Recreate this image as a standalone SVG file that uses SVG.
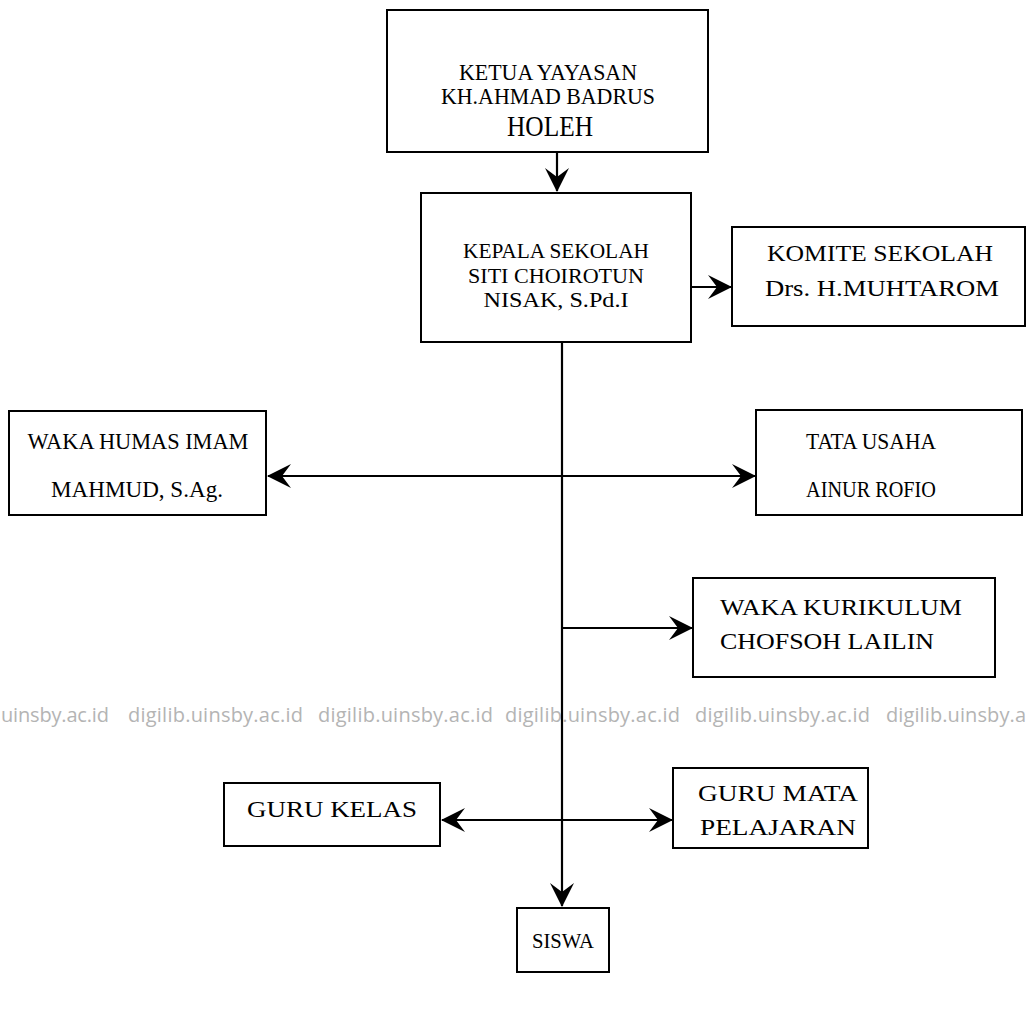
<svg xmlns="http://www.w3.org/2000/svg" width="1028" height="1028" viewBox="0 0 1028 1028">
<defs>
<marker id="arr" viewBox="0 0 24 24" refX="23" refY="12" markerWidth="24" markerHeight="24" markerUnits="userSpaceOnUse" orient="auto-start-reverse">
<path d="M0,0 L24,12 L0,24 L9,12 z" fill="#000"/>
</marker>
</defs>
<style>
.box{fill:#fff;stroke:#000;stroke-width:2}
.t{font-family:"Liberation Serif","Times New Roman",serif;fill:#000;text-anchor:middle}
.ts{font-family:"Liberation Serif","Times New Roman",serif;fill:#000;text-anchor:start}
.ln{stroke:#000;stroke-width:2.2;fill:none}
.wm{font-family:"Open Sans","Liberation Sans",sans-serif;fill:#b4b4b4;font-size:20px}
</style>
<rect width="1028" height="1028" fill="#fff"/>
<g id="watermark">
<text class="wm" y="722"><tspan x="1" textLength="108">uinsby.ac.id</tspan><tspan x="128" textLength="175">digilib.uinsby.ac.id</tspan><tspan x="318" textLength="175">digilib.uinsby.ac.id</tspan><tspan x="505" textLength="175">digilib.uinsby.ac.id</tspan><tspan x="695" textLength="175">digilib.uinsby.ac.id</tspan><tspan x="886" textLength="140">digilib.uinsby.a</tspan></text>
</g>
<g id="connectors">
<line class="ln" x1="557" y1="152" x2="557" y2="191" marker-end="url(#arr)"/>
<line class="ln" x1="691" y1="287" x2="731" y2="287" marker-end="url(#arr)"/>
<line class="ln" x1="562" y1="342" x2="562" y2="906" marker-end="url(#arr)"/>
<line class="ln" x1="268" y1="476" x2="755" y2="476" marker-start="url(#arr)" marker-end="url(#arr)"/>
<line class="ln" x1="562" y1="628" x2="692" y2="628" marker-end="url(#arr)"/>
<line class="ln" x1="442" y1="820" x2="672" y2="820" marker-start="url(#arr)" marker-end="url(#arr)"/>
</g>
<g id="ketua">
<rect class="box" x="387" y="10" width="321" height="142"/>
<text class="t" x="548" y="80" font-size="23" textLength="178" lengthAdjust="spacingAndGlyphs">KETUA YAYASAN</text>
<text class="t" x="548" y="104" font-size="23" textLength="214" lengthAdjust="spacingAndGlyphs">KH.AHMAD BADRUS</text>
<text class="t" x="550" y="136" font-size="29" textLength="86" lengthAdjust="spacingAndGlyphs">HOLEH</text>
</g>
<g id="kepala">
<rect class="box" x="421" y="193" width="270" height="149"/>
<text class="t" x="556" y="258" font-size="22" textLength="186" lengthAdjust="spacingAndGlyphs">KEPALA SEKOLAH</text>
<text class="t" x="556" y="283" font-size="22" textLength="176" lengthAdjust="spacingAndGlyphs">SITI CHOIROTUN</text>
<text class="t" x="556" y="307" font-size="22" textLength="145" lengthAdjust="spacingAndGlyphs">NISAK, S.Pd.I</text>
</g>
<g id="komite">
<rect class="box" x="732" y="227" width="293" height="99"/>
<text class="t" x="880" y="261" font-size="24" textLength="226" lengthAdjust="spacingAndGlyphs">KOMITE SEKOLAH</text>
<text class="t" x="882" y="296" font-size="24" textLength="234" lengthAdjust="spacingAndGlyphs">Drs. H.MUHTAROM</text>
</g>
<g id="waka-humas">
<rect class="box" x="9" y="411" width="257" height="104"/>
<text class="t" x="138" y="449" font-size="23" textLength="221" lengthAdjust="spacingAndGlyphs">WAKA HUMAS IMAM</text>
<text class="t" x="137" y="497" font-size="23" textLength="172" lengthAdjust="spacingAndGlyphs">MAHMUD, S.Ag.</text>
</g>
<g id="tata-usaha">
<rect class="box" x="756" y="410" width="266" height="105"/>
<text class="t" x="871" y="449" font-size="23" textLength="130" lengthAdjust="spacingAndGlyphs">TATA USAHA</text>
<text class="t" x="871" y="497" font-size="23" textLength="130" lengthAdjust="spacingAndGlyphs">AINUR ROFIO</text>
</g>
<g id="waka-kurikulum">
<rect class="box" x="693" y="578" width="302" height="99"/>
<text class="ts" x="720" y="615" font-size="24" textLength="242" lengthAdjust="spacingAndGlyphs">WAKA KURIKULUM</text>
<text class="ts" x="720" y="649" font-size="24" textLength="214" lengthAdjust="spacingAndGlyphs">CHOFSOH LAILIN</text>
</g>
<g id="guru-kelas">
<rect class="box" x="224" y="783" width="216" height="63"/>
<text class="t" x="332" y="817" font-size="23" textLength="170" lengthAdjust="spacingAndGlyphs">GURU KELAS</text>
</g>
<g id="guru-mapel">
<rect class="box" x="673" y="768" width="195" height="80"/>
<text class="t" x="778" y="801" font-size="23" textLength="160" lengthAdjust="spacingAndGlyphs">GURU MATA</text>
<text class="t" x="778" y="835" font-size="23" textLength="156" lengthAdjust="spacingAndGlyphs">PELAJARAN</text>
</g>
<g id="siswa">
<rect class="box" x="517" y="908" width="92" height="64"/>
<text class="t" x="563" y="948" font-size="22" textLength="62" lengthAdjust="spacingAndGlyphs">SISWA</text>
</g>
</svg>
